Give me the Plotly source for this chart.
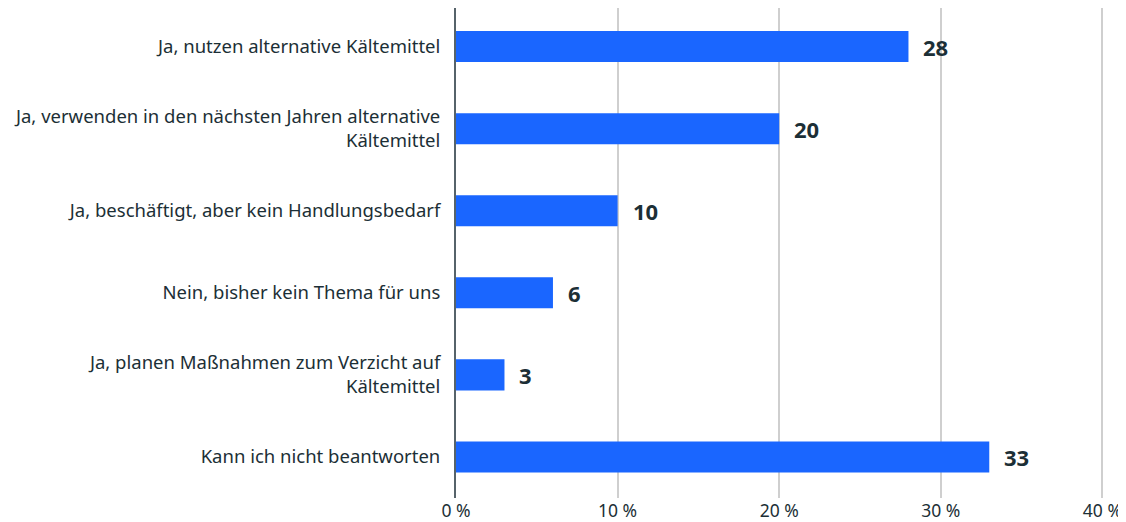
import plotly.graph_objects as go

# Antworten (von oben nach unten) und Anteile in Prozent
antworten = [
    "Ja, nutzen alternative Kältemittel",
    "Ja, verwenden in den nächsten Jahren alternative<br>Kältemittel",
    "Ja, beschäftigt, aber kein Handlungsbedarf",
    "Nein, bisher kein Thema für uns",
    "Ja, planen Maßnahmen zum Verzicht auf<br>Kältemittel",
    "Kann ich nicht beantworten",
]
anteile = [28, 20, 10, 6, 3, 33]

tick_werte = [0, 10, 20, 30, 40]
tick_texte = ["0 %", "10 %", "20 %", "30 %", "40 %"]

textfarbe = "#1c2f36"
balkenfarbe = "#1a66ff"

fig = go.Figure()
fig.add_trace(go.Bar(
    x=anteile,
    y=antworten,
    orientation="h",
    marker=dict(color=balkenfarbe, line=dict(width=0)),
    hoverinfo="skip",
))

# Wertbeschriftungen rechts neben den Balken
for wert, antwort in zip(anteile, antworten):
    fig.add_annotation(
        x=wert, y=antwort, text="<b>%d</b>" % wert,
        xanchor="left", xshift=13, showarrow=False,
        font=dict(size=22, color=textfarbe, family="Noto Sans"),
    )

# die Seite hat 8 px Rand, daher etwas kleiner
# Bereich etwas über 40, damit die letzte Gitterlinie gezeichnet wird
fig.update_layout(
    width=1118, height=514,
    margin=dict(l=448, r=22, t=0, b=24, autoexpand=False),
    plot_bgcolor="white", paper_bgcolor="white",
    bargap=0.622,
    showlegend=False,
    font=dict(family="Noto Sans", size=16, color=textfarbe),
    xaxis=dict(
        range=[0, 40.1], tickvals=tick_werte, ticktext=tick_texte,
        showgrid=True, gridcolor="#cfcfcf", gridwidth=1.5,
        zeroline=False, showline=False, ticks="",
        ticklabeloverflow="allow",
        tickfont=dict(size=17.5, color=textfarbe),
    ),
    yaxis=dict(
        range=[5.5, -0.47], showgrid=False, zeroline=False,
        showline=True, linecolor="#56636a", linewidth=2,
        ticks="", ticklabelstandoff=10,
        tickfont=dict(size=18.5, color=textfarbe),
    ),
)

fig.write_html("out.html")
